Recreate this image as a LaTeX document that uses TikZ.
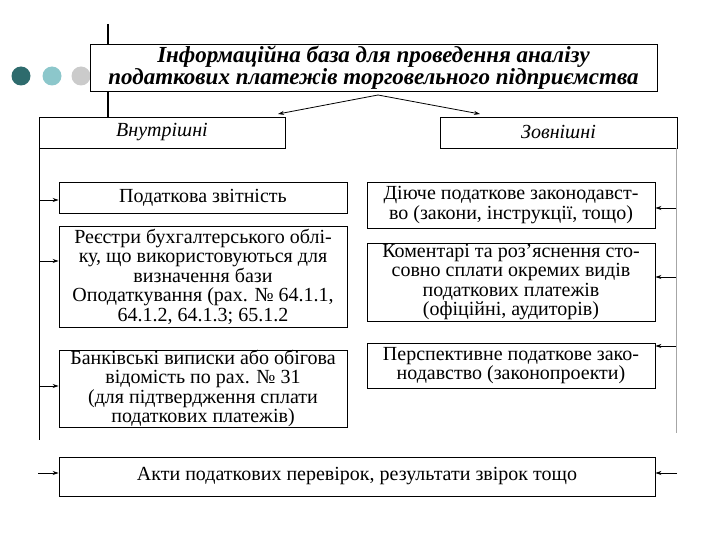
\documentclass[tikz,border=0pt]{standalone}
\usepackage{fontspec}
\setmainfont{Liberation Serif}
\usetikzlibrary{arrows.meta}
\definecolor{dteal}{HTML}{2E6B6D}
\definecolor{lteal}{HTML}{8CC7CB}
\definecolor{lgray}{HTML}{CBCBCB}
\begin{document}
\begin{tikzpicture}[x=1pt,y=-1pt,
  box/.style={draw=black,line width=0.9pt,fill=white,inner sep=0pt,align=center,font=\fontsize{20}{19.5}\selectfont},
  con/.style={line width=0.8pt},
  arr/.style={line width=0.8pt,-{Stealth[length=6pt,width=4pt]}}]
\useasboundingbox (0,0) rectangle (720,540);
% slide decoration
\fill[dteal] (21,76) circle (9.5);
\fill[lteal] (52,76) circle (9.5);
\fill[lgray] (81,76) circle (9.5);
\coordinate (vtop) at (108,24);
\coordinate (vbot) at (108,117);
\draw[line width=2.5pt] (vtop) -- (vbot);
% title
\node[box,minimum width=567pt,minimum height=47pt,font=\fontsize{23}{21.5}\selectfont\bfseries\itshape] (title) at (373.5,67.5)
  {Інформаційна база для проведення аналізу\\податкових платежів торговельного підприємства};
\node[box,minimum width=246pt,minimum height=31pt,font=\fontsize{20}{20}\selectfont\itshape] (vnut) at (162,132.5) {Внутрішні};
\node[box,minimum width=237pt,minimum height=31pt,font=\fontsize{20}{20}\selectfont\itshape] (zovn) at (558.5,132.5) {Зовнішні};
\coordinate (apex) at (378,95);
\draw[arr] (apex) -- (278,114);
\draw[arr] (apex) -- (480,114);
% left column
\node[box,minimum width=288pt,minimum height=31pt] (L1) at (203,197.5) {Податкова звітність};
\node[box,minimum width=288pt,minimum height=101pt] (L2) at (203,276.5)
  {Реєстри бухгалтерського облі-\\ку, що використовуються для\\визначення бази\\Оподаткування (рах. № 64.1.1,\\64.1.2, 64.1.3; 65.1.2};
\node[box,minimum width=288pt,minimum height=77pt] (L3) at (203,388.5)
  {Банківські виписки або обігова\\відомість по рах. № 31\\(для підтвердження сплати\\податкових платежів)};
% right column
\node[box,minimum width=288pt,minimum height=46pt] (R1) at (511,205)
  {Діюче податкове законодавст-\\во (закони, інструкції, тощо)};
\node[box,minimum width=288pt,minimum height=78pt] (R2) at (511,282)
  {Коментарі та роз’яснення сто-\\совно сплати окремих видів\\податкових платежів\\(офіційні, аудиторів)};
\node[box,minimum width=288pt,minimum height=45pt] (R3) at (511,365.5)
  {Перспективне податкове зако-\\нодавство (законопроекти)};
% bottom
\node[box,minimum width=596pt,minimum height=39pt] (akt) at (357,476.5)
  {Акти податкових перевірок, результати звірок тощо};
% side lines
\coordinate (lt) at (39,148);
\coordinate (lb) at (39,440);
\coordinate (rt) at (676,148);
\coordinate (rb) at (676,433);
\draw[con] (lt) -- (lb);
\draw[con,draw=gray!70] (rt) -- (rb);
\coordinate (la1) at (39,200);
\coordinate (la2) at (39,261);
\coordinate (la3) at (39,386);
\coordinate (la4) at (38,473);
\coordinate (ra1) at (676,208);
\coordinate (ra2) at (676,277);
\coordinate (ra3) at (676,346);
\coordinate (ra4) at (677,473);
\draw[arr] (la1) -- (la1 -| L1.west);
\draw[arr] (la2) -- (la2 -| L2.west);
\draw[arr] (la3) -- (la3 -| L3.west);
\draw[arr] (la4) -- (la4 -| akt.west);
\draw[arr] (ra1) -- (ra1 -| R1.east);
\draw[arr] (ra2) -- (ra2 -| R2.east);
\draw[arr] (ra3) -- (ra3 -| R3.east);
\draw[arr] (ra4) -- (ra4 -| akt.east);
\end{tikzpicture}
\end{document}
